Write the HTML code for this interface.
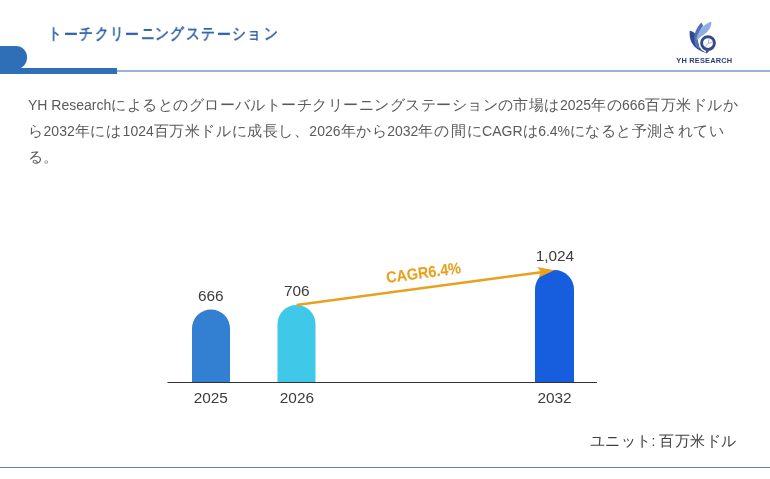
<!DOCTYPE html>
<html><head><meta charset="utf-8">
<style>
html,body{margin:0;padding:0;background:#fff;}
body{width:770px;height:479px;position:relative;overflow:hidden;-webkit-font-smoothing:antialiased;font-family:"Liberation Sans",sans-serif;}
.abs{position:absolute;will-change:transform;}
#blk{left:0;top:46px;width:27px;height:23px;background:#2e6fb7;border-radius:0 11px 11px 0;}
#bar{left:0;top:68px;width:117px;height:6px;background:#2e6fb7;}
#thin{left:117px;top:70px;width:653px;height:2px;background:#9ab3d2;}
#title span{position:absolute;top:24.7px;font-size:15px;line-height:1;font-weight:bold;color:#2e64a8;transform:scale(0.92,1.07);transform-origin:0 0;will-change:transform;}
#para{left:28px;top:91.5px;width:740px;font-size:15px;line-height:26.2px;color:#5a5a5a;letter-spacing:0.47px;}
#para div{white-space:nowrap;}
.l{font-size:14px;letter-spacing:0;line-height:1px;}
#unit{left:590px;top:430.5px;font-size:15px;color:#404040;white-space:nowrap;letter-spacing:0.4px;line-height:20px;}
#bline{left:0;top:467px;width:770px;height:1px;background:#68839f;}
</style></head><body>
<div class="abs" id="blk"></div>
<div class="abs" id="bar"></div>
<div class="abs" id="thin"></div>
<div id="title"><span style="left:48.23px">ト</span><span style="left:63.95px;top:26.3px">ー</span><span style="left:78.71px">チ</span><span style="left:94.56px">ク</span><span style="left:109.65px">リ</span><span style="left:124.90px;top:26.3px">ー</span><span style="left:140.70px">ニ</span><span style="left:155.25px">ン</span><span style="left:170.48px">グ</span><span style="left:186.45px">ス</span><span style="left:200.90px">テ</span><span style="left:217.25px;top:26.3px">ー</span><span style="left:232.30px">シ</span><span style="left:247.40px">ョ</span><span style="left:263.50px">ン</span></div>
<div class="abs" id="para"><div><span class="l">YH Research</span>によるとのグローバルトーチクリーニングステーションの市場は<span class="l">2025</span>年の<span class="l">666</span>百万米ドルか</div><div style="letter-spacing:0.56px">ら<span class="l">2032</span>年には<span class="l" style="margin-left:1.2px">1024</span>百万米ドルに成長し、<span class="l">2026</span>年から<span class="l">2032</span>年の<span style="margin-left:1.5px">間</span>に<span class="l">CAGR</span>は<span class="l">6.4%</span><span style="letter-spacing:0.4px">になると予測されてい</span></div><div>る。</div></div>
<svg class="abs" style="left:0;top:0" width="770" height="479">
<line x1="167.5" y1="382.5" x2="597" y2="382.5" stroke="#333" stroke-width="1"/>
<path d="M192 382 V328.5 A19 19 0 0 1 230 328.5 V382 Z" fill="#3380d2"/>
<path d="M277.5 382 V324 A19 19 0 0 1 315.5 324 V382 Z" fill="#40c8e8"/>
<path d="M535 382 V289.5 A19.5 19.5 0 0 1 574 289.5 V382 Z" fill="#175ede"/>
<g font-size="15.4" fill="#3c3c3c" font-family="Liberation Sans" text-anchor="middle">
<text x="210.8" y="301">666</text>
<text x="296.8" y="296">706</text>
<text x="554.9" y="261">1,024</text>
<text x="210.8" y="403">2025</text>
<text x="296.9" y="403">2026</text>
<text x="554.5" y="403">2032</text>
</g>
<line x1="296.5" y1="305" x2="541" y2="272.2" stroke="#e9a01e" stroke-width="2.6"/>
<path d="M554.4 270.3 L537.2 267 L540.8 271.6 L538.8 277.4 Z" fill="#e9a01e"/>
<text id="cagr" x="0" y="0" font-size="15.5" font-weight="bold" fill="#e9a01e" stroke="#e9a01e" stroke-width="0.1" font-family="Liberation Sans" transform="translate(387,283) rotate(-7.6) scale(0.93,1.03)">CAGR6.4%</text>
<g id="logo">
<path d="M689.8,30.8 C688.8,40 692.5,49.5 707.5,53.4 C701.5,50 698.6,46 698,41 C697.4,35.5 695,32 689.8,30.8 Z" fill="#2f4a8e"/>
<path d="M701.5,22.6 C698,26 695,31 694.3,37 C693.8,42 695,45.5 698,48.5 L700,47.5 C698.3,44.5 697.5,41 698,37 C699,32 701,28.5 703.2,25.8 Z" fill="#5470b8"/>
<path d="M711.4,21.75 C706,23 702,27 699.4,31.4 C697.5,34.5 696.3,37.5 696.6,40.8 C698,38.5 701.5,36.5 704.4,34.3 C708,31.5 711.5,27.5 711.4,21.75 Z" fill="#8cafe2"/>
<circle cx="708" cy="43.1" r="9.3" fill="#fff"/>
<path d="M705.6,50.6 L706.6,53.6 L709.2,50.9 Z" fill="#35498f"/>
<circle cx="708" cy="43.1" r="6.4" fill="#fff" stroke="#35498f" stroke-width="2.9"/>
<path d="M708.5,43.3 L708.7,39.2 M708.5,43.3 L712.5,42.3 M708.5,43.3 L704.5,47" stroke="#6a80bf" stroke-width="0.6" fill="none"/>
<text x="704.3" y="62.7" font-size="7.4" font-weight="bold" fill="#2b3f7a" text-anchor="middle" letter-spacing="0.2" font-family="Liberation Sans">YH RESEARCH</text>
</g>
</svg>
<div class="abs" id="unit">ユニット<span class="l">: </span>百万米ドル</div>
<div class="abs" id="bline"></div>
</body></html>
